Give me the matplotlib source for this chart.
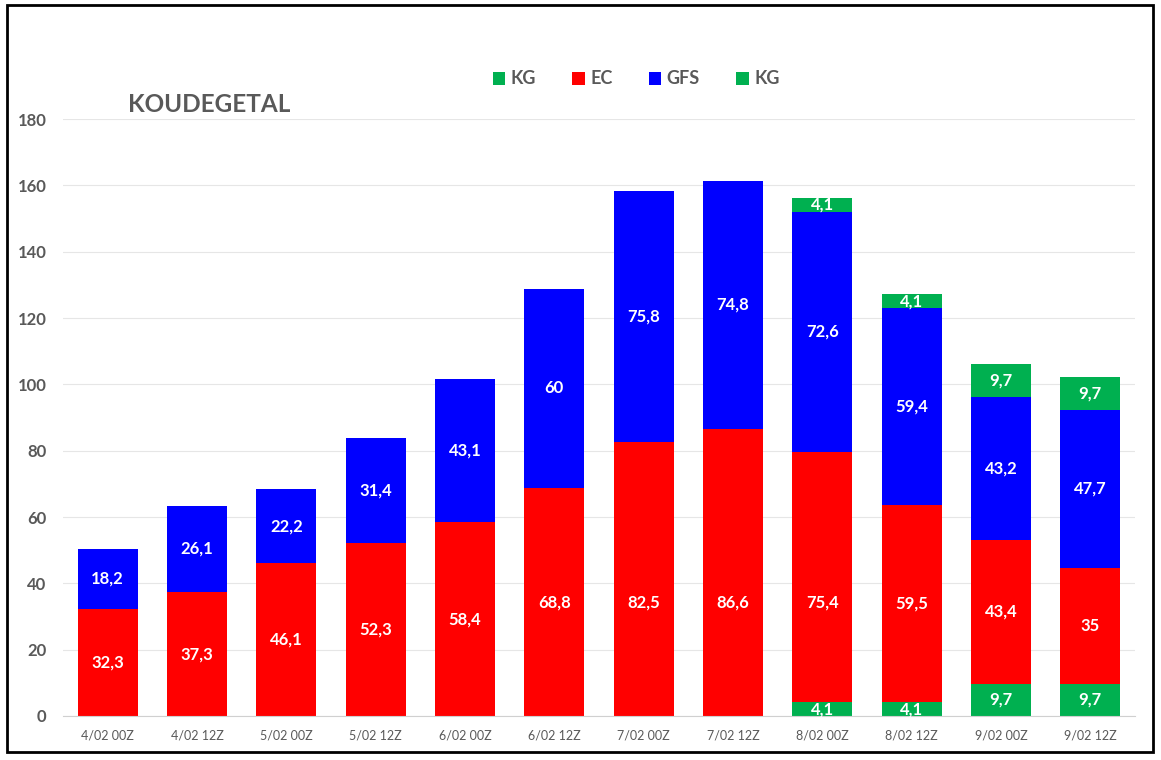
import matplotlib
matplotlib.use("Agg")
import matplotlib.pyplot as plt
from matplotlib.patches import Rectangle
import numpy as np

plt.rcParams['font.family'] = ['Lato', 'DejaVu Sans']

categories = ["4/02 00Z", "4/02 12Z", "5/02 00Z", "5/02 12Z", "6/02 00Z", "6/02 12Z",
              "7/02 00Z", "7/02 12Z", "8/02 00Z", "8/02 12Z", "9/02 00Z", "9/02 12Z"]
kg_bottom = [0, 0, 0, 0, 0, 0, 0, 0, 4.1, 4.1, 9.7, 9.7]
ec = [32.3, 37.3, 46.1, 52.3, 58.4, 68.8, 82.5, 86.6, 75.4, 59.5, 43.4, 35]
gfs = [18.2, 26.1, 22.2, 31.4, 43.1, 60, 75.8, 74.8, 72.6, 59.4, 43.2, 47.7]
kg_top = [0, 0, 0, 0, 0, 0, 0, 0, 4.1, 4.1, 9.7, 9.7]

GREEN = "#00B050"
RED = "#FF0000"
BLUE = "#0000FF"
GRAY = "#595959"

fig = plt.figure(figsize=(11.61, 7.6), dpi=100)
ax = fig.add_axes([0.0543, 0.0579, 0.9233, 0.7855])

x = np.arange(len(categories))
w = 0.67
# label cap: in the original the EC labels never sit higher than ~34
series = [("KG", kg_bottom, GREEN, None), ("EC", ec, RED, 34.3),
          ("GFS", gfs, BLUE, None), ("KG", kg_top, GREEN, None)]
bottom = np.zeros(len(categories))
for name, vals, col, cap in series:
    vals = np.array(vals, dtype=float)
    ax.bar(x, vals, w, bottom=bottom, color=col, label=name, zorder=2)
    for xi, b, v in zip(x, bottom, vals):
        if v > 0:
            y = b + v / 2
            if cap is not None:
                y = min(y, cap)
            txt = f"{v:g}".replace(".", ",")
            ax.text(xi, y, txt, ha="center", va="center", color="white",
                    fontsize=12, fontweight="bold", zorder=3)
    bottom = bottom + vals

ax.set_xlim(-0.5, len(categories) - 0.5)
ax.set_ylim(0, 180)
ax.set_yticks(range(0, 181, 20))
ax.set_xticks(x)
ax.set_xticklabels(categories, fontsize=9, color=GRAY)
for lbl in ax.get_yticklabels():
    lbl.set_fontweight("bold")
    lbl.set_fontsize(12)
    lbl.set_color(GRAY)
ax.tick_params(axis="both", length=0)
ax.tick_params(axis="y", pad=12)
ax.tick_params(axis="x", pad=10)
ax.grid(axis="y", color="#E6E6E6", linewidth=0.8, zorder=0)
for s in ["top", "right", "left"]:
    ax.spines[s].set_visible(False)
ax.spines["bottom"].set_color("#D0D0D0")

fig.text(128 / 1161, 1 - 105 / 760, "KOUDEGETAL", fontsize=17.5, fontweight="bold",
         color=GRAY, va="center", ha="left")

leg = fig.legend(loc="center", bbox_to_anchor=(636 / 1161, 1 - 79 / 760), ncol=4,
                 frameon=False, handlelength=0.7, handleheight=0.7, handletextpad=0.3,
                 columnspacing=2.0, prop={"weight": "bold", "size": 13})
for t in leg.get_texts():
    t.set_color(GRAY)

fig.patches.append(Rectangle((7 / 1161, 1 - 752 / 760), 1146 / 1161, 747 / 760,
                             transform=fig.transFigure, fill=False, edgecolor="black",
                             linewidth=2, zorder=10))

fig.savefig("out.png", dpi=100)
